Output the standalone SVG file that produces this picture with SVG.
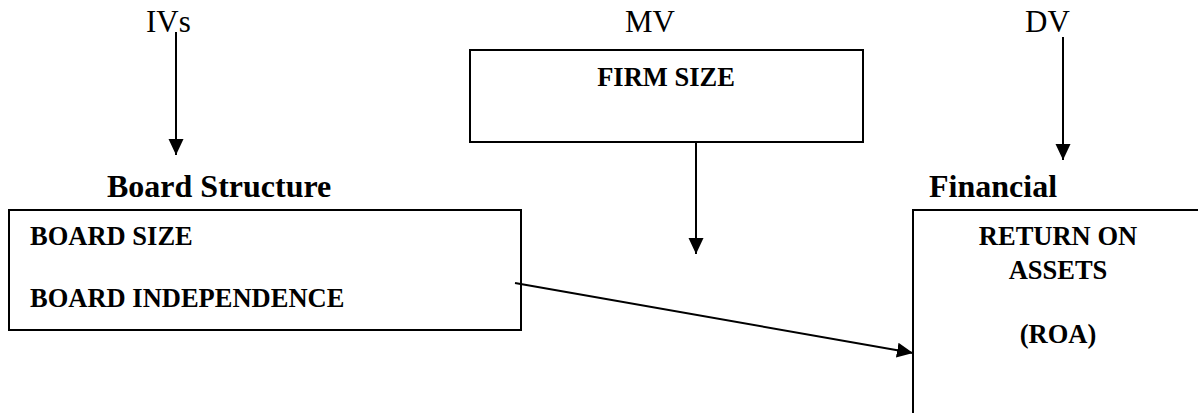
<svg xmlns="http://www.w3.org/2000/svg" width="1198" height="413" viewBox="0 0 1198 413">
<style>
.lbl{font-family:"Liberation Serif","Times New Roman",serif;font-size:31px;fill:#000}
.hd{font-family:"Liberation Serif","Times New Roman",serif;font-size:32px;font-weight:bold;fill:#000}
.bx{font-family:"Liberation Serif","Times New Roman",serif;font-size:26.5px;font-weight:bold;fill:#000}
.box{fill:#fff;stroke:#000;stroke-width:2}
.con{stroke:#000;stroke-width:2;fill:none}
</style>
<defs>
<marker id="ah" markerWidth="17" markerHeight="17" viewBox="0 0 17 17" refX="16" refY="8.5" orient="auto" markerUnits="userSpaceOnUse">
<path d="M0,1 L16,8.5 L0,16 Z" fill="#000"/>
</marker>
</defs>
<g id="labels">
<text class="lbl" x="146" y="32">IVs</text>
<text class="lbl" x="625" y="32">MV</text>
<text class="lbl" x="1025" y="32">DV</text>
</g>
<g id="board-structure">
<text class="hd" x="107" y="197">Board Structure</text>
<rect class="box" x="9" y="210" width="512" height="120"/>
<text class="bx" x="30" y="245">BOARD SIZE</text>
<text class="bx" x="30" y="307">BOARD INDEPENDENCE</text>
</g>
<g id="firm-size">
<rect class="box" x="470" y="50" width="393" height="92"/>
<text class="bx" x="666" y="86" text-anchor="middle">FIRM SIZE</text>
</g>
<g id="financial">
<text class="hd" x="929" y="197">Financial</text>
<rect class="box" x="913" y="210" width="300" height="220"/>
<text class="bx" x="1058" y="245" text-anchor="middle">RETURN ON</text>
<text class="bx" x="1058" y="279" text-anchor="middle">ASSETS</text>
<text class="bx" x="1058" y="343" text-anchor="middle">(ROA)</text>
</g>
<g id="connectors">
<line class="con" x1="176" y1="32" x2="176" y2="155" marker-end="url(#ah)"/>
<line class="con" x1="696" y1="142" x2="696" y2="254" marker-end="url(#ah)"/>
<line class="con" x1="1063" y1="37" x2="1063" y2="160" marker-end="url(#ah)"/>
<line class="con" x1="515" y1="283" x2="913" y2="353" marker-end="url(#ah)"/>
</g>
</svg>
